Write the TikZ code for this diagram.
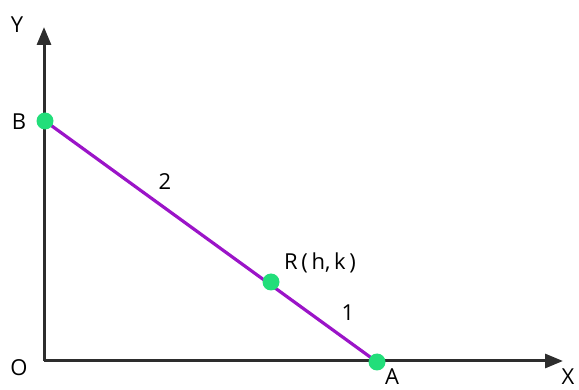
\documentclass[tikz,border=0pt]{standalone}
\usepackage{fontspec}
\setmainfont{Open Sans}
\usetikzlibrary{arrows.meta}
\definecolor{segc}{RGB}{155,20,200}
\definecolor{dotc}{RGB}{34,222,122}
\definecolor{axc}{RGB}{45,45,45}
\begin{document}
\begin{tikzpicture}[x=1pt,y=-1pt,
  axis/.style={draw=axc,line width=3pt,-{Triangle[length=18pt,width=14pt]}},
  seg/.style={draw=segc,line width=3.2pt},
  pt/.style={circle,fill=dotc,inner sep=0pt,minimum size=17pt},
  lbl/.style={font=\fontsize{22}{26}\selectfont,text=black,inner sep=0pt}]
\useasboundingbox (0,0) rectangle (579,390);
\coordinate (O) at (44,361);
\coordinate (Ytip) at (44,27);
\coordinate (Xtip) at (563,361);
\draw[axis] (O) -- (Ytip);
\draw[axis] (O) -- (Xtip);
\coordinate (Bc) at (45,121);
\coordinate (Ac) at (377,362);
\draw[seg] (Bc) -- (Ac);
\node[pt] (B) at (Bc) {};
\node[pt] (A) at (Ac) {};
\node[pt] (R) at (271,282) {};
\node[lbl] (Yl) at (17,25) {Y};
\node[lbl] (Bl) at (19,122) {B};
\node[lbl] (Ol) at (19,368) {O};
\node[lbl] (Al) at (392,377) {A};
\node[lbl] (Xl) at (568,377) {X};
\node[lbl] (two) at (165,182) {2};
\node[lbl] (Rl) at (320,263) {R\,(\,h,\,k\,)};
\node[lbl] (one) at (348,313) {1};
\end{tikzpicture}
\end{document}
